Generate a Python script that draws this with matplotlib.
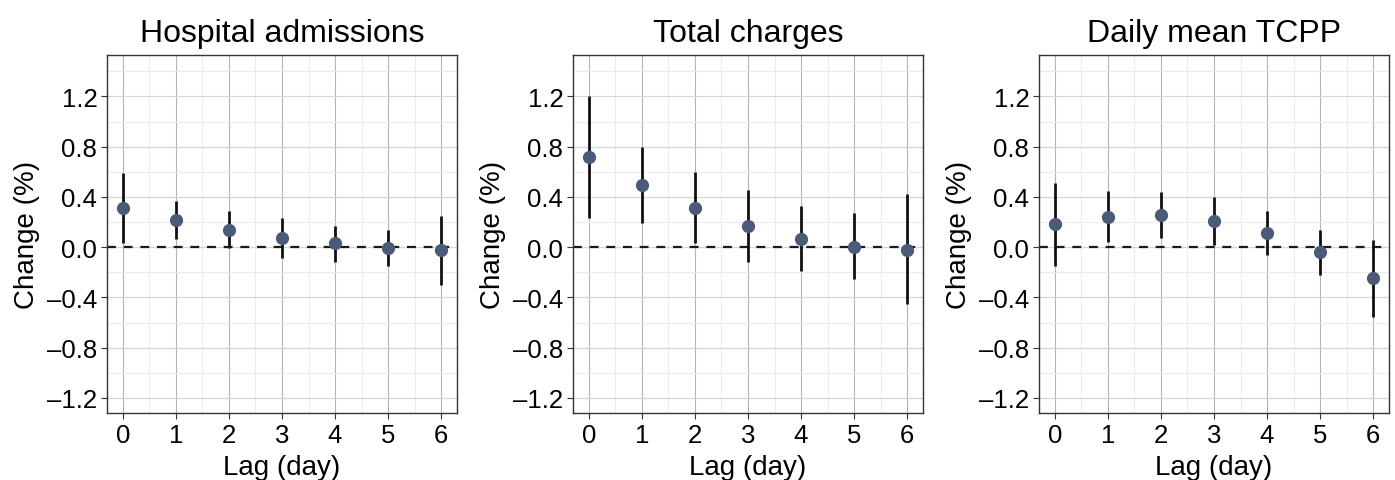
import numpy as np
import matplotlib
matplotlib.use("Agg")
import matplotlib.pyplot as plt
from matplotlib.ticker import MultipleLocator

plt.rcParams['font.family'] = ['Liberation Sans', 'DejaVu Sans']

lags = [0, 1, 2, 3, 4, 5, 6]
titles = ["Hospital admissions", "Total charges", "Daily mean TCPP"]

# point estimates and 95% CI per outcome
adm_est = [0.31, 0.217, 0.14, 0.074, 0.032, -0.005, -0.021]
adm_lo = [0.034, 0.066, -0.005, -0.088, -0.114, -0.151, -0.30]
adm_hi = [0.59, 0.369, 0.286, 0.233, 0.167, 0.14, 0.252]

chg_est = [0.716, 0.496, 0.313, 0.17, 0.069, 0.005, -0.019]
chg_lo = [0.236, 0.19, 0.034, -0.114, -0.191, -0.257, -0.456]
chg_hi = [1.20, 0.80, 0.597, 0.456, 0.326, 0.27, 0.422]

tcpp_est = [0.183, 0.244, 0.257, 0.21, 0.111, -0.042, -0.249]
tcpp_lo = [-0.149, 0.045, 0.072, 0.019, -0.066, -0.225, -0.557]
tcpp_hi = [0.512, 0.448, 0.44, 0.403, 0.289, 0.14, 0.058]

yticks = [-1.2, -0.8, -0.4, 0.0, 0.4, 0.8, 1.2]
ytick_labels = ["\u20131.2", "\u20130.8", "\u20130.4", "0.0", "0.4", "0.8", "1.2"]

series = [(adm_est, adm_lo, adm_hi),
          (chg_est, chg_lo, chg_hi),
          (tcpp_est, tcpp_lo, tcpp_hi)]

fig = plt.figure(figsize=(13.95, 4.81), dpi=100)
W, H = 1395, 481
lefts = [107, 573, 1039]
width = 350
top, bottom = 56, 414

for i in range(3):
    ax = fig.add_axes([lefts[i] / W, 1 - bottom / H, width / W, (bottom - top) / H])
    est, lo, hi = series[i]
    ax.set_xlim(-0.3, 6.3)
    ax.set_ylim(-1.32, 1.53)
    ax.xaxis.set_major_locator(MultipleLocator(1))
    ax.xaxis.set_minor_locator(MultipleLocator(0.5))
    ax.set_yticks(yticks)
    ax.set_yticklabels(ytick_labels)
    ax.yaxis.set_minor_locator(MultipleLocator(0.2))
    ax.grid(which='major', axis='x', color='#b5b5b5', lw=0.8)
    ax.grid(which='major', axis='y', color='#d5d5d5', lw=0.9)
    ax.grid(which='minor', color='#ebebeb', lw=0.7)
    ax.set_axisbelow(True)
    ax.axhline(0, color='#1a1a1a', lw=1.6, ls=(0, (4, 3.5)), zorder=2)
    ax.vlines(lags, lo, hi, color='#111111', lw=2.0, zorder=3)
    ax.plot(lags, est, 'o', color='#4b5a78', ms=8.5, mec='#4b5a78', zorder=4)
    for s in ax.spines.values():
        s.set_color('#333333')
        s.set_linewidth(1.0)
    ax.tick_params(which='major', labelsize=18.5, length=4, color='#333333', pad=3)
    ax.tick_params(which='minor', length=0)
    ax.set_title(titles[i], fontsize=23, pad=10)
    ax.set_xlabel("Lag (day)", fontsize=20, labelpad=5)
    ax.set_ylabel("Change (%)", fontsize=20, labelpad=5)

fig.savefig("out.png", dpi=100)
